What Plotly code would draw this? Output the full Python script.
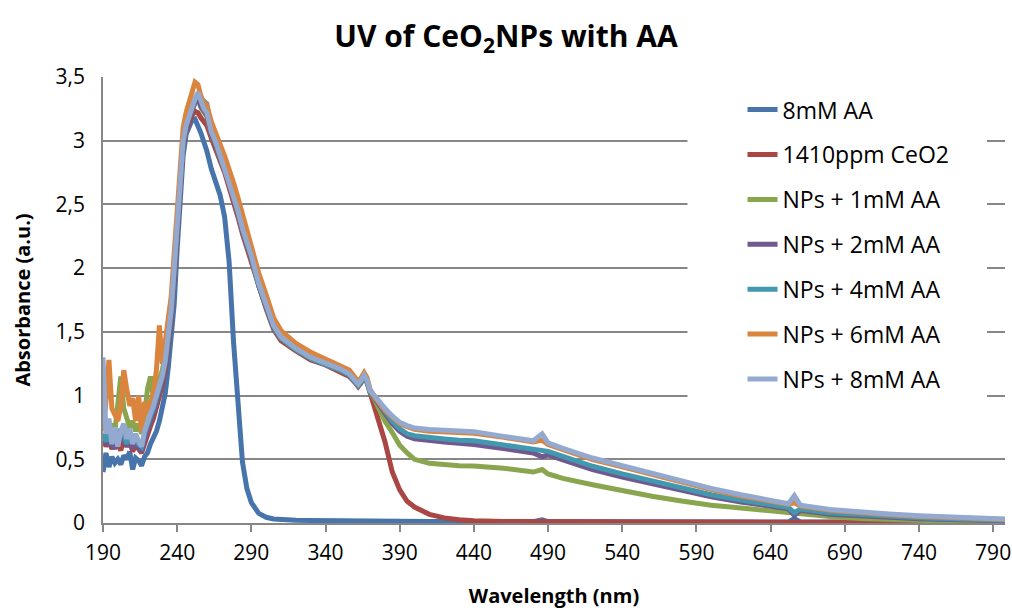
import plotly.graph_objects as go

# Wavelength grid (nm) shared by all spectra
wavelength = [
    190, 192, 194, 196, 198, 200, 202, 204, 206, 208, 210, 212, 214, 216, 218, 220, 222, 224, 226, 228,
    230, 232, 234, 236, 238, 240, 242,
    244, 246, 248, 250, 252, 254, 256, 258, 260,
    263, 266, 269, 272, 275, 278, 281, 284, 287, 290,
    295, 300, 305, 310,
    320, 330, 340, 350,
    356, 360, 362, 364, 366, 368, 370,
    373, 376, 380, 385, 390, 395, 400,
    410, 420, 430, 440,
    460, 480, 486, 490, 500,
    520, 540, 560, 580, 600, 620, 640,
    652, 656, 660,
    680, 700, 720, 740, 760, 780, 800,
]

aa_8mM = [
    0.40, 0.55, 0.44, 0.52, 0.47, 0.50, 0.46, 0.53, 0.50, 0.56, 0.42, 0.51, 0.49, 0.45, 0.52, 0.55, 0.62, 0.67, 0.72, 0.80,
    0.90, 1.02, 1.22, 1.45, 1.72, 2.15, 2.55,
    2.88, 3.05, 3.12, 3.16, 3.17, 3.12, 3.06, 2.99, 2.92,
    2.78, 2.68, 2.57, 2.40, 2.05, 1.42, 0.92, 0.48, 0.27, 0.16,
    0.075, 0.045, 0.032, 0.026,
    0.022, 0.020, 0.018, 0.017,
    0.016, 0.016, 0.016, 0.016, 0.016, 0.015, 0.015,
    0.015, 0.015, 0.014, 0.014, 0.014, 0.013, 0.013,
    0.012, 0.012, 0.011, 0.011,
    0.010, 0.010, 0.025, 0.010, 0.010,
    0.009, 0.009, 0.009, 0.008, 0.008, 0.008, 0.008,
    0.008, 0.035, 0.008,
    0.007, 0.007, 0.007, 0.006, 0.006, 0.006, 0.006,
]

ceo2_1410ppm = [
    0.68, 0.60, 0.66, 0.58, 0.64, 0.62, 0.57, 0.66, 0.60, 0.64, 0.56, 0.62, 0.58, 0.55, 0.62, 0.70, 0.76, 0.82, 0.90, 0.98,
    1.08, 1.20, 1.38, 1.60, 1.92, 2.28, 2.65,
    2.95, 3.08, 3.15, 3.20, 3.23, 3.22, 3.18, 3.15, 3.12,
    3.02, 2.94, 2.84, 2.75, 2.64, 2.53, 2.40, 2.27, 2.16, 2.05,
    1.84, 1.68, 1.52, 1.43,
    1.35, 1.28, 1.24, 1.19,
    1.15, 1.10, 1.07, 1.10, 1.14, 1.10, 1.02,
    0.92, 0.80, 0.64, 0.40, 0.26, 0.17, 0.125,
    0.068, 0.040, 0.025, 0.017,
    0.012, 0.010, 0.010, 0.009, 0.009,
    0.008, 0.008, 0.008, 0.007, 0.007, 0.007, 0.007,
    0.007, 0.007, 0.007,
    0.006, 0.006, 0.006, 0.006, 0.005, 0.005, 0.005,
]

nps_aa_1mM = [
    0.85, 0.75, 0.70, 0.78, 0.72, 0.95, 1.15, 0.90, 0.82, 0.75, 0.80, 0.72, 0.78, 0.70, 0.85, 1.05, 1.15, 0.98, 1.06, 1.14,
    1.20, 1.32, 1.48, 1.68, 2.00, 2.36, 2.72,
    2.99, 3.11, 3.19, 3.24, 3.30, 3.33, 3.26, 3.22, 3.19,
    3.05, 2.97, 2.86, 2.78, 2.67, 2.56, 2.43, 2.29, 2.19, 2.08,
    1.86, 1.70, 1.53, 1.45,
    1.36, 1.29, 1.25, 1.20,
    1.16, 1.11, 1.08, 1.11, 1.15, 1.11, 1.03,
    0.97, 0.90, 0.80, 0.71, 0.61, 0.55, 0.50,
    0.468, 0.455, 0.450, 0.447,
    0.430, 0.400, 0.420, 0.385, 0.350,
    0.300, 0.252, 0.210, 0.172, 0.140, 0.118, 0.095,
    0.080, 0.072, 0.070,
    0.050, 0.036, 0.026, 0.019, 0.014, 0.010, 0.008,
]

nps_aa_2mM = [
    0.62, 0.70, 0.60, 0.68, 0.58, 0.66, 0.70, 0.64, 0.60, 0.68, 0.58, 0.64, 0.60, 0.56, 0.66, 0.74, 0.80, 0.86, 0.94, 1.02,
    1.12, 1.24, 1.42, 1.64, 1.97, 2.32, 2.70,
    2.98, 3.10, 3.18, 3.23, 3.30, 3.34, 3.27, 3.23, 3.20,
    3.05, 2.97, 2.86, 2.78, 2.67, 2.56, 2.43, 2.29, 2.19, 2.08,
    1.86, 1.70, 1.53, 1.45,
    1.36, 1.29, 1.25, 1.20,
    1.16, 1.11, 1.08, 1.11, 1.15, 1.11, 1.03,
    0.98, 0.93, 0.86, 0.78, 0.72, 0.68, 0.66,
    0.645, 0.635, 0.625, 0.615,
    0.585, 0.550, 0.520, 0.535, 0.495,
    0.420, 0.360, 0.305, 0.252, 0.205, 0.165, 0.130,
    0.112, 0.060, 0.100,
    0.068, 0.054, 0.043, 0.034, 0.027, 0.021, 0.017,
]

nps_aa_4mM = [
    0.70, 0.64, 0.72, 0.62, 0.70, 0.64, 0.74, 0.70, 0.62, 0.72, 0.64, 0.68, 0.62, 0.60, 0.70, 0.78, 0.84, 0.90, 0.98, 1.06,
    1.14, 1.26, 1.44, 1.66, 1.99, 2.34, 2.71,
    2.99, 3.12, 3.20, 3.26, 3.32, 3.36, 3.33, 3.31, 3.29,
    3.08, 2.98, 2.87, 2.79, 2.68, 2.57, 2.44, 2.30, 2.20, 2.09,
    1.87, 1.71, 1.54, 1.45,
    1.36, 1.29, 1.25, 1.20,
    1.16, 1.11, 1.08, 1.11, 1.15, 1.11, 1.03,
    0.99, 0.94, 0.88, 0.80, 0.74, 0.70, 0.685,
    0.670, 0.660, 0.650, 0.645,
    0.612, 0.578, 0.560, 0.562, 0.522,
    0.445, 0.385, 0.328, 0.272, 0.222, 0.180, 0.142,
    0.122, 0.080, 0.110,
    0.080, 0.064, 0.051, 0.041, 0.033, 0.026, 0.021,
]

nps_aa_6mM = [
    0.72, 0.95, 1.28, 0.90, 0.85, 0.80, 0.92, 1.20, 1.05, 0.92, 0.98, 0.80, 1.00, 0.72, 0.95, 0.85, 0.95, 1.02, 1.20, 1.55,
    1.25, 1.45, 1.60, 1.78, 2.12, 2.50, 2.85,
    3.10, 3.22, 3.30, 3.38, 3.46, 3.44, 3.35, 3.30, 3.28,
    3.15, 3.07, 2.97, 2.88, 2.78, 2.67, 2.55, 2.42, 2.30, 2.18,
    1.96, 1.79, 1.61, 1.51,
    1.41, 1.34, 1.29, 1.24,
    1.20, 1.14, 1.11, 1.14, 1.18, 1.14, 1.05,
    0.99, 0.94, 0.885, 0.83, 0.78, 0.755, 0.735,
    0.720, 0.715, 0.710, 0.705,
    0.672, 0.635, 0.650, 0.615, 0.575,
    0.498, 0.440, 0.378, 0.318, 0.262, 0.212, 0.170,
    0.146, 0.160, 0.132,
    0.100, 0.080, 0.064, 0.051, 0.041, 0.033, 0.026,
]

nps_aa_8mM = [
    1.30, 0.70, 0.82, 0.62, 0.75, 0.60, 0.72, 0.78, 0.66, 0.74, 0.62, 0.70, 0.64, 0.60, 0.72, 0.80, 0.86, 0.92, 1.00, 1.08,
    1.16, 1.28, 1.45, 1.68, 2.00, 2.35, 2.72,
    3.00, 3.12, 3.20, 3.25, 3.33, 3.38, 3.30, 3.25, 3.22,
    3.07, 2.99, 2.88, 2.80, 2.69, 2.58, 2.45, 2.31, 2.21, 2.10,
    1.88, 1.72, 1.55, 1.46,
    1.37, 1.30, 1.26, 1.21,
    1.17, 1.12, 1.09, 1.12, 1.16, 1.12, 1.04,
    1.00, 0.95, 0.90, 0.84, 0.79, 0.765, 0.745,
    0.733, 0.728, 0.722, 0.717,
    0.680, 0.645, 0.700, 0.628, 0.585,
    0.510, 0.450, 0.390, 0.330, 0.272, 0.222, 0.178,
    0.152, 0.215, 0.140,
    0.106, 0.086, 0.070, 0.057, 0.046, 0.037, 0.030,
]

series_names = [
    "8mM AA", "1410ppm CeO2", "NPs + 1mM AA", "NPs + 2mM AA",
    "NPs + 4mM AA", "NPs + 6mM AA", "NPs + 8mM AA",
]
series_values = [aa_8mM, ceo2_1410ppm, nps_aa_1mM, nps_aa_2mM, nps_aa_4mM, nps_aa_6mM, nps_aa_8mM]
series_colors = ["#4674AB", "#AA4643", "#89A54E", "#71588F", "#4198AF", "#DB843D", "#93A9CF"]

x_ticks = list(range(190, 791, 50))

FONT = "Open Sans, Lato, sans-serif"
GRID = "#878787"

fig = go.Figure()
for name, vals, color in zip(series_names, series_values, series_colors):
    fig.add_trace(go.Scatter(
        x=wavelength, y=vals, name=name, mode="lines",
        line=dict(color=color, width=5),
        legendgroup=name,
    ))

fig.update_layout(
    width=1012, height=610,
    margin=dict(l=103, r=7, t=77, b=87),
    paper_bgcolor="white", plot_bgcolor="white",
    separators=", ",
    font=dict(family=FONT, size=21, color="black"),
    title=dict(
        text="<b>UV of CeO<sub>2</sub>NPs with AA</b>",
        x=0.5, xref="container", xanchor="center",
        y=0.94, yref="container", yanchor="middle",
        font=dict(family=FONT, size=30, color="black"),
    ),
    xaxis=dict(
        range=[190, 798], tickvals=x_ticks, ticks="outside", ticklen=7,
        tickcolor=GRID, tickwidth=1.5, showline=True, linecolor=GRID, linewidth=1.5,
        showgrid=False, zeroline=False, automargin=False,
        tickfont=dict(size=21), ticklabelstandoff=3,
        title=dict(text="<b>Wavelength (nm)</b>", standoff=24, font=dict(size=20)),
    ),
    yaxis=dict(
        range=[0, 3.5], dtick=0.5, showline=True, linecolor=GRID, linewidth=1.5,
        showgrid=True, gridcolor=GRID, gridwidth=1.5, zeroline=False, automargin=False,
        ticklabelstandoff=12, tickfont=dict(size=21),
        title=dict(text="<b>Absorbance (a.u.)</b>", standoff=20, font=dict(size=20)),
    ),
    legend=dict(
        x=0.709, y=0.975, xanchor="left", yanchor="top",
        bgcolor="rgba(0,0,0,0)", borderwidth=0,
        tracegroupgap=12,
        font=dict(family=FONT, size=23),
    ),
    showlegend=True,
    shapes=[dict(
        type="rect", xref="paper", yref="paper",
        x0=0.648, x1=0.980, y0=0.265, y1=0.992,
        fillcolor="white", line=dict(width=0), layer="above",
    )],
)

fig.write_html("out.html")
